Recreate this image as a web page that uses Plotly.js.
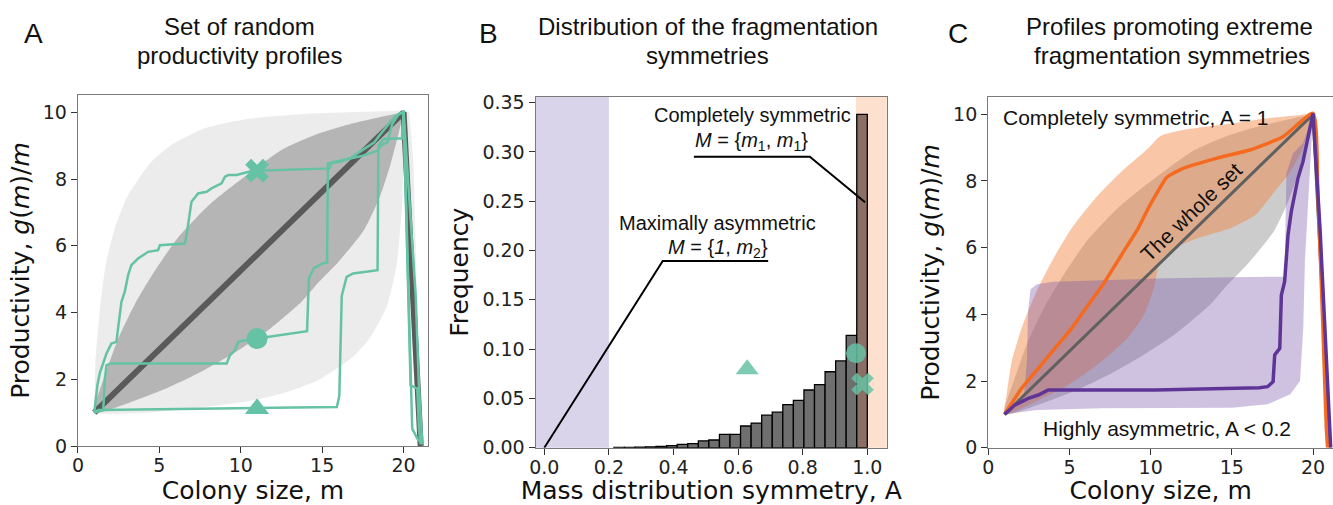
<!DOCTYPE html>
<html>
<head>
<meta charset="utf-8">
<script src="https://cdn.plot.ly/plotly-3.0.1.min.js"></script>
<style>html,body{margin:0;padding:0;background:#fff;}#chart{width:1333px;height:505px;}</style>
</head>
<body>
<div id="chart"></div>
<script>
// ---------- Panel A data ----------
const envUpperX = [1, 1.03, 1.07, 1.44, 1.74, 2.26, 3.08, 4.51, 5.74, 7.79, 10.4, 14.7, 20];
const envUpperY = [1, 1.6, 2.52, 4.52, 5.52, 6.52, 7.52, 8.52, 9.02, 9.52, 9.8, 9.97, 10.05];
const envLowerX = [20, 19.94, 19.58, 18.99, 17.93, 16.88, 14.76, 12.65, 10.54, 8.43, 4.21, 1.3, 1];
const envLowerY = [10.05, 7.49, 5.46, 4.21, 3.24, 2.67, 1.98, 1.59, 1.35, 1.21, 1.0, 0.97, 1];
const envDescX = [19.95, 20.35, 20.6, 20.75, 20.9, 21.05, 20.85, 20.55, 20.25];
const envDescY = [10.05, 10.0, 8.5, 6, 3, 0.1, 0.1, 3, 8];

const bandUpperX = [1, 1.64, 2.46, 3.49, 4.72, 6.15, 8.0, 9.23, 10.58, 12.6, 14.7, 16.74, 18.8, 20];
const bandUpperY = [1, 2.1, 3.2, 4.25, 5.25, 6.25, 7.2, 7.7, 8.2, 8.9, 9.35, 9.65, 9.88, 10];
const bandLowerX = [20, 19.73, 19.2, 18.56, 17.6, 16.03, 14.76, 13.7, 11.6, 9.49, 7.38, 5.26, 3.15, 1];
const bandLowerY = [10, 9.43, 8.45, 7.49, 6.5, 5.54, 4.9, 4.31, 3.44, 2.76, 2.18, 1.69, 1.30, 1];

const meanX = [1, 20, 21.05];
const meanY = [1, 10, 0];

const profXx = [1, 1.2, 1.35, 1.55, 1.75, 2.05, 2.36, 2.46, 2.67, 2.87, 3.08, 3.28, 3.69, 4.31, 4.92, 5.03, 6.56, 6.67, 6.97, 7.38, 7.9, 8.2, 8.82, 9.03, 9.23, 9.74, 10.67, 11, 12, 15.45, 15.6, 16.1, 17.5, 18.4, 18.6, 19.0, 19.3, 19.7, 20, 20.43, 20.84, 20.94, 21.05];
const profXy = [1, 1.85, 2.2, 2.5, 2.77, 3.07, 3.12, 3.52, 4.32, 4.62, 5.12, 5.42, 5.62, 5.82, 5.87, 6.02, 6.07, 6.32, 7.32, 7.57, 7.62, 7.72, 7.87, 8.07, 8.12, 8.12, 8.24, 8.25, 8.27, 8.32, 8.5, 8.55, 8.7, 8.85, 9.0, 9.1, 9.65, 9.95, 10.02, 1.82, 1.72, 0.52, 0.05];
const profOx = [1, 1.55, 1.65, 1.75, 2.0, 9.13, 9.33, 9.64, 9.85, 10.26, 11, 14.07, 14.18, 14.48, 15.0, 15.3, 15.35, 16.1, 16.7, 17.9, 18.2, 18.5, 19.5, 20, 20.74, 20.94, 21.15];
const profOy = [1, 1.08, 2.0, 2.42, 2.47, 2.47, 2.72, 2.87, 3.12, 3.17, 3.22, 3.44, 5.02, 5.32, 5.47, 5.5, 8.47, 8.52, 8.62, 9.02, 9.1, 9.3, 9.9, 10, 4.52, 1.82, 0.05];
const profTx = [1, 1.25, 5, 11, 15.9, 16.05, 16.2, 16.5, 16.9, 18.4, 18.45, 18.8, 19.9, 20, 20.53, 20.84, 21.05];
const profTy = [1, 1.08, 1.1, 1.14, 1.17, 1.5, 4.5, 5.07, 5.17, 5.27, 9.0, 9.2, 9.22, 10, 0.52, 0.22, 0.1];

const markA_x = [11, 11, 11];
const markA_y = [8.25, 3.22, 1.12];
const markSymbols = ['x', 'circle', 'triangle-up'];

// ---------- Panel B data ----------
const binCenters = [0.2315, 0.2642, 0.2969, 0.3296, 0.3623, 0.395, 0.4277, 0.4604, 0.4931, 0.5258, 0.5585, 0.5912, 0.6239, 0.6566, 0.6893, 0.722, 0.7547, 0.7874, 0.8201, 0.8528, 0.8855, 0.9182, 0.9509, 0.9836];
const binFreq = [0.0003, 0.0004, 0.0006, 0.0009, 0.0013, 0.002, 0.0034, 0.0042, 0.007, 0.0078, 0.0135, 0.0135, 0.022, 0.025, 0.033, 0.036, 0.0436, 0.048, 0.0585, 0.064, 0.077, 0.088, 0.114, 0.338];
const binWidth = 0.0327;
const markB_x = [0.985, 0.965, 0.628];
const markB_y = [0.0646, 0.0958, 0.0795];
const leaderAsymX = [0, 0.3666, 0.693];
const leaderAsymY = [0, 0.1894, 0.1894];
const leaderSymX = [0.463, 0.822, 0.993];
const leaderSymY = [0.295, 0.295, 0.249];
const bandAsym = [-0.03, 0.2];
const bandSym = [0.965, 1.07];

// ---------- Panel C data ----------
const orUpperX = [1, 1.13, 1.44, 2.05, 2.87, 3.9, 5.13, 6.77, 8.2, 9.85, 10.6, 12.0, 15.08, 17.13, 19.18, 20];
const orUpperY = [1, 1.58, 2.58, 3.58, 4.58, 5.58, 6.58, 7.58, 8.28, 8.98, 9.35, 9.53, 9.73, 9.88, 9.98, 10.03];
const orLowerX = [20, 19.3, 18.5, 17.5, 16.5, 15, 13, 11.5, 10.6, 10.2, 9.6, 8.6, 7, 5, 3, 1];
const orLowerY = [10.03, 8.9, 8.2, 7.6, 7.0, 6.6, 6.3, 6.0, 5.6, 4.8, 4.0, 3.3, 2.6, 1.9, 1.4, 1];
const orMeanX = [1, 2.05, 3.08, 4.1, 5.13, 6.15, 7.18, 8.2, 9.23, 9.85, 10.46, 10.97, 12.0, 14.05, 16.1, 18.15, 20, 20.3, 20.61, 20.82, 20.9];
const orMeanY = [1, 1.78, 2.38, 2.98, 3.58, 4.28, 4.98, 5.78, 6.58, 7.18, 7.7, 8.1, 8.38, 8.68, 8.93, 9.33, 10.03, 7.58, 3.58, 0.58, 0];
const puUpperX = [1, 1.5, 2.2, 2.38, 2.45, 2.6, 3.0, 4, 7, 11, 15, 17.54, 18.25, 18.3, 18.36, 18.77, 19.38, 20];
const puUpperY = [1, 1.25, 1.6, 2.6, 4.1, 4.75, 4.9, 4.98, 5.03, 5.08, 5.11, 5.13, 5.13, 6.5, 8.23, 8.83, 9.13, 10];
const puLowerX = [20, 19.9, 19.7, 19.5, 19.4, 19.2, 18.6, 17.6, 17.2, 15, 11, 7, 3, 1.34, 1];
const puLowerY = [10, 9.1, 7.6, 5.6, 3.6, 2.0, 1.6, 1.4, 1.3, 1.2, 1.18, 1.18, 1.13, 1.03, 1];
const puMeanX = [1, 1.64, 2.46, 3.08, 3.69, 6.15, 10.26, 16.7, 17.2, 17.54, 17.64, 17.95, 18.05, 18.25, 18.46, 18.66, 18.87, 19.07, 19.38, 19.69, 20, 20.43, 20.72, 20.92, 21.09];
const puMeanY = [1, 1.28, 1.48, 1.58, 1.73, 1.73, 1.73, 1.8, 1.83, 1.98, 2.78, 2.98, 4.58, 4.98, 6.38, 7.08, 7.58, 8.08, 8.58, 9.28, 10.03, 6.58, 3.58, 1.58, 0];

const green = '#66c2a5';
const poly = (ux, uy, lx, ly) => ({x: ux.concat(lx), y: uy.concat(ly)});
const fillLine = {width: 0, shape: 'spline', smoothing: 0.6};

const traces = [];
// Panel A
let p = poly(envUpperX, envUpperY, envLowerX, envLowerY);
traces.push({x: p.x, y: p.y, xaxis: 'x', yaxis: 'y', type: 'scatter', mode: 'lines', fill: 'toself', fillcolor: '#ececec', line: fillLine});
traces.push({x: envDescX, y: envDescY, xaxis: 'x', yaxis: 'y', type: 'scatter', mode: 'lines', fill: 'toself', fillcolor: '#ececec', line: {width: 0}});
p = poly(bandUpperX, bandUpperY, bandLowerX, bandLowerY);
traces.push({x: p.x, y: p.y, xaxis: 'x', yaxis: 'y', type: 'scatter', mode: 'lines', fill: 'toself', fillcolor: '#b5b5b5', line: fillLine});
traces.push({x: meanX, y: meanY, xaxis: 'x', yaxis: 'y', type: 'scatter', mode: 'lines', line: {color: '#5a5a5a', width: 6}});
[[profXx, profXy], [profOx, profOy], [profTx, profTy]].forEach(pr => {
  traces.push({x: pr[0], y: pr[1], xaxis: 'x', yaxis: 'y', type: 'scatter', mode: 'lines', line: {color: green, width: 2.5}});
});
traces.push({x: markA_x, y: markA_y, xaxis: 'x', yaxis: 'y', type: 'scatter', mode: 'markers',
  marker: {symbol: markSymbols, size: 21, color: green, line: {width: 0}}});

// Panel B
traces.push({x: binCenters, y: binFreq, xaxis: 'x2', yaxis: 'y2', type: 'bar', width: binWidth,
  marker: {color: binFreq.map((v, i) => i === binFreq.length - 1 ? '#8b6e64' : '#6f6f6f'), line: {color: '#000', width: 1.3}}});
traces.push({x: leaderAsymX, y: leaderAsymY, xaxis: 'x2', yaxis: 'y2', type: 'scatter', mode: 'lines', line: {color: '#000', width: 2}});
traces.push({x: leaderSymX, y: leaderSymY, xaxis: 'x2', yaxis: 'y2', type: 'scatter', mode: 'lines', line: {color: '#000', width: 2}});
traces.push({x: markB_x, y: markB_y, xaxis: 'x2', yaxis: 'y2', type: 'scatter', mode: 'markers',
  marker: {symbol: markSymbols, size: 20, color: green, opacity: 0.85, line: {width: 0}}});

// Panel C
p = poly(bandUpperX, bandUpperY, bandLowerX, bandLowerY);
traces.push({x: p.x, y: p.y, xaxis: 'x3', yaxis: 'y3', type: 'scatter', mode: 'lines', fill: 'toself', fillcolor: 'rgba(128,128,128,0.4)', line: fillLine});
p = poly(orUpperX, orUpperY, orLowerX, orLowerY);
traces.push({x: p.x, y: p.y, xaxis: 'x3', yaxis: 'y3', type: 'scatter', mode: 'lines', fill: 'toself', fillcolor: 'rgba(241,130,60,0.45)', line: fillLine});
p = poly(puUpperX, puUpperY, puLowerX, puLowerY);
traces.push({x: p.x, y: p.y, xaxis: 'x3', yaxis: 'y3', type: 'scatter', mode: 'lines', fill: 'toself', fillcolor: 'rgba(117,80,170,0.35)', line: {width: 0}});
traces.push({x: meanX, y: meanY, xaxis: 'x3', yaxis: 'y3', type: 'scatter', mode: 'lines', line: {color: '#606060', width: 3}});
traces.push({x: orMeanX, y: orMeanY, xaxis: 'x3', yaxis: 'y3', type: 'scatter', mode: 'lines', line: {color: '#f56a1f', width: 3.5, shape: 'spline', smoothing: 0.5}});
traces.push({x: puMeanX, y: puMeanY, xaxis: 'x3', yaxis: 'y3', type: 'scatter', mode: 'lines', line: {color: '#5e3596', width: 3.5}});

const tickFont = {family: 'DejaVu Sans', size: 19, color: '#222'};
const titleFont = {family: 'DejaVu Sans', size: 25, color: '#111'};
const axBase = {showgrid: false, zeroline: false, showline: true, mirror: true, linecolor: '#7a7a7a', linewidth: 1.2,
  ticks: 'outside', ticklen: 6, tickcolor: '#333', tickfont: tickFont};
const xBase = Object.assign({}, axBase, {ticklabelstandoff: -4});
const helv = 'Liberation Sans, Arial, sans-serif';
const ann = (text, x, y, size, extra) => Object.assign({text: text, x: x, y: y, xref: 'paper', yref: 'paper', showarrow: false,
  font: {family: helv, size: size, color: '#111'}, xanchor: 'center', yanchor: 'middle'}, extra || {});
const px = v => v / 1333, py = v => 1 - v / 505;

const layout = {
  width: 1333, height: 505, margin: {l: 0, r: 0, t: 0, b: 0}, showlegend: false,
  paper_bgcolor: '#fff', plot_bgcolor: '#fff',
  xaxis: Object.assign({}, xBase, {domain: [0.0585, 0.3211], range: [0, 21.5], tickvals: [0, 5, 10, 15, 20], anchor: 'y',
    title: {text: 'Colony size, m', font: titleFont, standoff: 3}}),
  yaxis: Object.assign({}, axBase, {domain: [0.1168, 0.8119], range: [0, 10.52], tickvals: [0, 2, 4, 6, 8, 10], anchor: 'x',
    title: {text: 'Productivity, <i>g</i>(<i>m</i>)/<i>m</i>', font: titleFont, standoff: 6}}),
  xaxis2: Object.assign({}, xBase, {domain: [0.4019, 0.6652], range: [-0.0266, 1.06], tickvals: [0, 0.2, 0.4, 0.6, 0.8, 1.0],
    ticktext: ['0.0', '0.2', '0.4', '0.6', '0.8', '1.0'], anchor: 'y2',
    title: {text: 'Mass distribution symmetry, A', font: titleFont, standoff: 3}}),
  yaxis2: Object.assign({}, axBase, {domain: [0.1135, 0.8085], range: [0, 0.356], tickvals: [0, 0.05, 0.1, 0.15, 0.2, 0.25, 0.3, 0.35],
    tickformat: '.2f', anchor: 'x2', title: {text: 'Frequency', font: titleFont, standoff: 6}}),
  xaxis3: Object.assign({}, xBase, {domain: [0.7414, 1.0], range: [0, 21.23], tickvals: [0, 5, 10, 15, 20], anchor: 'y3',
    title: {text: 'Colony size, m', font: titleFont, standoff: 3}}),
  yaxis3: Object.assign({}, axBase, {domain: [0.1135, 0.8073], range: [0, 10.51], tickvals: [0, 2, 4, 6, 8, 10], anchor: 'x3',
    title: {text: 'Productivity, <i>g</i>(<i>m</i>)/<i>m</i>', font: titleFont, standoff: 6}}),
  shapes: [
    {type: 'rect', xref: 'x2', yref: 'y2 domain', x0: bandAsym[0], x1: bandAsym[1], y0: 0, y1: 1, fillcolor: '#dad4ea', line: {width: 0}, layer: 'below'},
    {type: 'rect', xref: 'x2', yref: 'y2 domain', x0: bandSym[0], x1: bandSym[1], y0: 0, y1: 1, fillcolor: '#fde0cd', line: {width: 0}, layer: 'below'}
  ],
  annotations: [
    ann('A', px(33), py(33), 28),
    ann('B', px(488), py(33), 28),
    ann('C', px(958), py(33), 28),
    ann('Set of random', px(239), py(26), 24),
    ann('productivity profiles', px(239), py(56), 24),
    ann('Distribution of the fragmentation', px(708), py(26), 24),
    ann('symmetries', px(707), py(56), 24),
    ann('Profiles promoting extreme', px(1169), py(26), 24),
    ann('fragmentation symmetries', px(1172), py(56), 24),
    {text: 'Completely symmetric', x: 0.6446, y: 0.3375, xref: 'x2', yref: 'y2', showarrow: false, font: {family: helv, size: 20, color: '#111'}},
    {text: '<i>M</i> = {<i>m</i><sub>1</sub>, <i>m</i><sub>1</sub>}', x: 0.6415, y: 0.3104, xref: 'x2', yref: 'y2', showarrow: false, font: {family: helv, size: 20, color: '#111'}},
    {text: 'Maximally asymmetric', x: 0.5362, y: 0.2283, xref: 'x2', yref: 'y2', showarrow: false, font: {family: helv, size: 20, color: '#111'}},
    {text: '<i>M</i> = {<i>1</i>, <i>m</i><sub>2</sub>}', x: 0.5362, y: 0.2023, xref: 'x2', yref: 'y2', showarrow: false, font: {family: helv, size: 20, color: '#111'}},
    {text: 'Completely symmetric, A = 1', x: 9.12, y: 9.89, xref: 'x3', yref: 'y3', showarrow: false, font: {family: helv, size: 21, color: '#111'}},
    {text: 'Highly asymmetric, A < 0.2', x: 11.03, y: 0.59, xref: 'x3', yref: 'y3', showarrow: false, font: {family: helv, size: 21, color: '#111'}},
    {text: 'The whole set', x: 12.54, y: 7.07, xref: 'x3', yref: 'y3', showarrow: false, textangle: -44, font: {family: helv, size: 21, color: '#111'}}
  ]
};
Plotly.newPlot('chart', traces, layout, {staticPlot: true});
</script>
</body>
</html>
